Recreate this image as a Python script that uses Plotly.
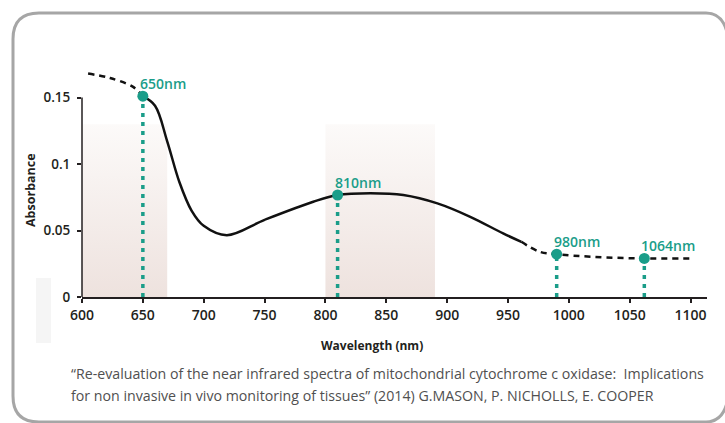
import plotly.graph_objects as go

# ---------------- data ----------------
wl_left_dash = [605, 623, 642, 650]
abs_left_dash = [0.168, 0.1647, 0.158, 0.151]

wl_solid = [650, 660, 670, 680, 690, 700, 719, 750, 790, 810, 837, 864, 892, 919, 946, 961]
abs_solid = [0.151, 0.1438, 0.1171, 0.0865, 0.065, 0.0535, 0.0465, 0.058, 0.0716, 0.0767,
             0.078, 0.0767, 0.0704, 0.0603, 0.0478, 0.0415]

wl_right_dash = [961, 976, 990, 1020, 1062, 1102]
abs_right_dash = [0.0415, 0.034, 0.0322, 0.0302, 0.029, 0.029]

marker_wl = [650, 810, 990, 1062]
marker_abs = [0.151, 0.0767, 0.0322, 0.029]
marker_labels = ["650nm", "810nm", "980nm", "1064nm"]

band_start = [600, 800]
band_end = [670, 890]
band_top = [0.13, 0.13]

x_ticks = [600, 650, 700, 750, 800, 850, 900, 950, 1000, 1050, 1100]
y_ticks = [0, 0.05, 0.1, 0.15]
y_ticktext = ["0", "0.05", "0.1", "0.15"]

caption_lines = [
    "\u201cRe-evaluation of the near infrared spectra of mitochondrial cytochrome c oxidase:  Implications",
    "for non invasive in vivo monitoring of tissues\u201d (2014) G.MASON, P. NICHOLLS, E. COOPER",
]

# ---------------- style / geometry ----------------
W, H = 725, 423
ML, MR, MT, MB = 82, 18, 51, 126
PW, PH = W - ML - MR, H - MT - MB
TEAL = "#1a9d89"
INK = "#231f20"
FONT = "Open Sans"


def px(X):
    return (X - ML) / PW


def py(Y):
    return (H - MB - Y) / PH


fig = go.Figure()

# shaded bands (vertical gradient)
for s, e, t in zip(band_start, band_end, band_top):
    fig.add_trace(go.Scatter(
        x=[s, e, e, s, s], y=[0, 0, t, t, 0], mode="lines", fill="toself",
        line=dict(width=0), hoverinfo="skip", showlegend=False,
        fillgradient=dict(type="vertical",
                          colorscale=[[0, "#eee2de"], [1, "#fcfaf9"]]),
    ))

# dotted drop lines
for xw, ya in zip(marker_wl, marker_abs):
    fig.add_trace(go.Scatter(
        x=[xw, xw], y=[0, ya], mode="lines", hoverinfo="skip", showlegend=False,
        line=dict(color=TEAL, width=3.5, dash="4px,5px"),
    ))

# absorbance curve
fig.add_trace(go.Scatter(x=wl_left_dash, y=abs_left_dash, mode="lines",
                         line=dict(color="#111111", width=2.5, dash="6px,5px", shape="spline"),
                         showlegend=False))
fig.add_trace(go.Scatter(x=wl_solid, y=abs_solid, mode="lines",
                         line=dict(color="#111111", width=2.5, shape="spline", smoothing=1.0),
                         showlegend=False))
fig.add_trace(go.Scatter(x=wl_right_dash, y=abs_right_dash, mode="lines",
                         line=dict(color="#111111", width=2.5, dash="6px,5px", shape="spline"),
                         showlegend=False))

# markers
fig.add_trace(go.Scatter(x=marker_wl, y=marker_abs, mode="markers",
                         marker=dict(color=TEAL, size=11, line=dict(width=0)),
                         showlegend=False, cliponaxis=False))

annotations = []
for xw, ya, lab in zip(marker_wl, marker_abs, marker_labels):
    annotations.append(dict(
        x=xw, y=ya, xref="x", yref="y", text=lab, showarrow=False,
        xanchor="left", yanchor="middle", xshift=-5, yshift=13,
        font=dict(family=FONT, size=14, color=TEAL, weight=600),
    ))

annotations.append(dict(
    x=px(30), y=py(190), xref="paper", yref="paper", text="Absorbance",
    showarrow=False, textangle=-90, xanchor="center", yanchor="middle",
    font=dict(family=FONT, size=12.5, color=INK, weight=700),
))
annotations.append(dict(
    x=px(372), y=py(345), xref="paper", yref="paper", text="Wavelength (nm)",
    showarrow=False, xanchor="center", yanchor="middle",
    font=dict(family=FONT, size=12, color=INK, weight=700),
))
for line, yy in zip(caption_lines, [373.5, 395]):
    annotations.append(dict(
        x=px(69), y=py(yy), xref="paper", yref="paper", text=line,
        showarrow=False, xanchor="left", yanchor="middle",
        font=dict(family=FONT, size=14.2, color="#505050"),
    ))

# frame: open on the right (right edge lies just outside the picture)
L, T, B, r = 13, 13, 422, 26
TR_X = 706   # where the top/bottom edges start curving off the right side
frame_path = (
    f"M {px(TR_X + 22)},{py(T + 24)} Q {px(TR_X + 18)},{py(T)} {px(TR_X)},{py(T)} "
    f"L {px(L + r)},{py(T)} Q {px(L)},{py(T)} {px(L)},{py(T + r)} "
    f"L {px(L)},{py(B - r)} Q {px(L)},{py(B)} {px(L + r)},{py(B)} "
    f"L {px(TR_X)},{py(B)} Q {px(TR_X + 18)},{py(B)} {px(TR_X + 22)},{py(B - 24)}"
)
shapes = [
    dict(type="path", path=frame_path, xref="paper", yref="paper",
         line=dict(color="#a6a6a6", width=3), layer="below"),
    dict(type="rect", x0=px(36), x1=px(51), y0=py(343), y1=py(278), xref="paper", yref="paper",
         fillcolor="#f5f5f5", line=dict(width=0), layer="below"),
    dict(type="line", xref="paper", yref="y", x0=0, x1=0, y0=0, y1=y_ticks[-1],
         line=dict(color=INK, width=1.5)),
]

fig.update_layout(
    width=W, height=H,
    margin=dict(l=ML, r=MR, t=MT, b=MB),
    paper_bgcolor="white", plot_bgcolor="white",
    showlegend=False,
    annotations=annotations, shapes=shapes,
    xaxis=dict(range=[600, 1113.5], tickvals=x_ticks, ticks="outside", ticklen=4,
               tickwidth=1.5, tickcolor=INK, showline=True, linecolor=INK, linewidth=1.5,
               showgrid=False, zeroline=False, fixedrange=True,
               tickfont=dict(family=FONT, size=14, color=INK, weight=600)),
    yaxis=dict(range=[0, 0.185], tickvals=y_ticks, ticktext=y_ticktext, ticks="outside",
               ticklen=4, tickwidth=1.5, tickcolor=INK, showline=False, showgrid=False,
               zeroline=False, fixedrange=True, ticklabelstandoff=4,
               tickfont=dict(family=FONT, size=13.5, color=INK, weight=600)),
)

fig.write_html("out.html", config={"displayModeBar": False},
               post_script="document.body.style.margin='0px';")
